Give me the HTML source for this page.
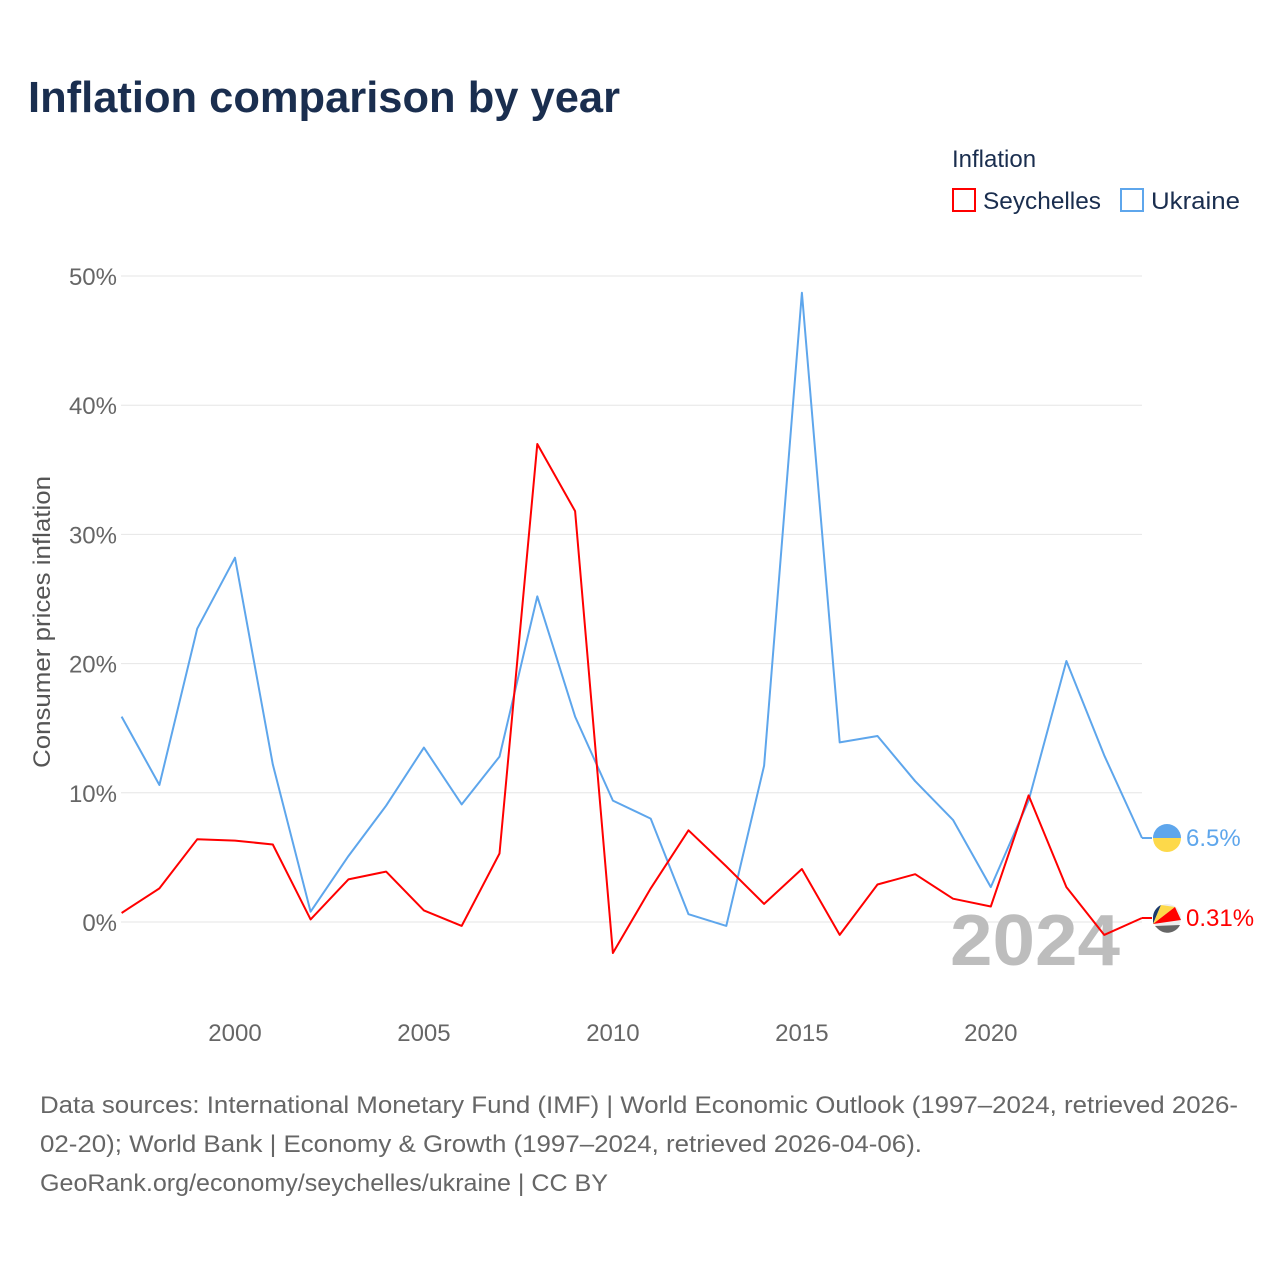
<!DOCTYPE html>
<html><head><meta charset="utf-8"><style>
body{margin:0;background:#fff;font-family:"Liberation Sans",sans-serif}
</style></head><body>
<svg id="chart" width="1280" height="1280" xmlns="http://www.w3.org/2000/svg" style="display:block">
<rect width="1280" height="1280" fill="#fff"/>
<text x="28" y="112" font-size="44" font-weight="bold" fill="#1a2e4f" textLength="592" lengthAdjust="spacingAndGlyphs">Inflation comparison by year</text>
<text x="952" y="167" font-size="24" fill="#1a2e4f">Inflation</text>
<g><rect x="953" y="189" width="22" height="22" fill="none" stroke="#f00" stroke-width="2"/><text x="983" y="209" font-size="24" fill="#1a2e4f" textLength="118" lengthAdjust="spacingAndGlyphs">Seychelles</text></g>
<g><rect x="1121" y="189" width="22" height="22" fill="none" stroke="#5ea6ec" stroke-width="2"/><text x="1151" y="209" font-size="24" fill="#1a2e4f" textLength="89" lengthAdjust="spacingAndGlyphs">Ukraine</text></g>
<g id="grid"></g>
<g id="xt"></g>
<text x="1120" y="965" text-anchor="end" font-size="72" font-weight="bold" fill="#bdbdbd" textLength="170" lengthAdjust="spacingAndGlyphs">2024</text>
<text transform="translate(50,622) rotate(-90)" text-anchor="middle" font-size="24" fill="#555" textLength="292" lengthAdjust="spacingAndGlyphs">Consumer prices inflation</text>
<g id="series"></g>
<g font-size="24" fill="#666">
<text x="40" y="1113" textLength="1198" lengthAdjust="spacingAndGlyphs">Data sources: International Monetary Fund (IMF) | World Economic Outlook (1997–2024, retrieved 2026-</text>
<text x="40" y="1152" textLength="882" lengthAdjust="spacingAndGlyphs">02-20); World Bank | Economy &amp; Growth (1997–2024, retrieved 2026-04-06).</text>
<text x="40" y="1191" textLength="568" lengthAdjust="spacingAndGlyphs">GeoRank.org/economy/seychelles/ukraine | CC BY</text>
</g>
</svg>
<script>
const years=[1997,1998,1999,2000,2001,2002,2003,2004,2005,2006,2007,2008,2009,2010,2011,2012,2013,2014,2015,2016,2017,2018,2019,2020,2021,2022,2023,2024];
const ukraine=[15.9,10.6,22.7,28.2,12.2,0.8,5.1,9.0,13.5,9.1,12.8,25.2,15.9,9.4,8.0,0.6,-0.3,12.1,48.7,13.9,14.4,10.9,7.9,2.7,9.4,20.2,12.9,6.5];
const seychelles=[0.7,2.6,6.4,6.3,6.0,0.2,3.3,3.9,0.9,-0.3,5.3,37.0,31.8,-2.4,2.6,7.1,4.3,1.4,4.1,-1.0,2.9,3.7,1.8,1.2,9.8,2.7,-1.0,0.31];
const yTicks=[0,10,20,30,40,50];
const xTicks=[2000,2005,2010,2015,2020];
const NS='http://www.w3.org/2000/svg';
const X=y=>121.6+(y-1997)*(1142-121.6)/27;
const Y=v=>922-v*(922-276)/50;
function el(t,a,p){const e=document.createElementNS(NS,t);for(const k in a)e.setAttribute(k,a[k]);p.appendChild(e);return e;}
const grid=document.getElementById('grid');
yTicks.forEach(t=>{
 const l=el('line',{x1:121,x2:1142,y1:Y(t),y2:Y(t),stroke:'#e6e6e6','stroke-width':1},grid);
 
 
 const tx=el('text',{x:117,y:Y(t)+9,'text-anchor':'end','font-size':24,fill:'#666'},grid);
 tx.textContent=t+'%';
 
 
});
const xt=document.getElementById('xt');
xTicks.forEach(t=>{
 const tx=el('text',{x:X(t),y:1041,'text-anchor':'middle','font-size':24,fill:'#666'},xt);
 tx.textContent=t;
 
 
});
const s=document.getElementById('series');
function line(vals,color,name){
 const d=vals.map((v,i)=>(i?'L':'M')+X(years[i]).toFixed(1)+','+Y(v).toFixed(1)).join('');
 const p=el('path',{d:d,fill:'none',stroke:color,'stroke-width':2,'stroke-linejoin':'round'},s);
 
 
}
line(ukraine,'#5ea6ec','ukraine');
line(seychelles,'#f00','seychelles');
const lu=ukraine[ukraine.length-1], ls=seychelles[seychelles.length-1];
const ex=X(years[years.length-1]);
el('line',{x1:ex,x2:ex+10,y1:Y(lu),y2:Y(lu),stroke:'#5ea6ec','stroke-width':2},s);
el('line',{x1:ex,x2:ex+10,y1:Y(ls),y2:Y(ls),stroke:'#f00','stroke-width':2},s);
const fu=el('g',{},s);


const cu=Y(lu);
el('path',{d:`M${ex+11},${cu} a14,14 0 0 1 28,0 z`,fill:'#5ea6ec'},fu);
el('path',{d:`M${ex+11},${cu} a14,14 0 0 0 28,0 z`,fill:'#fdd94a'},fu);
const tu=el('text',{x:ex+44,y:cu+8,'font-size':24,fill:'#5ea6ec'},s);
tu.textContent=lu+'%';


const cs=Y(ls);
const fs=el('g',{},s);


const cx=ex+25;
el('circle',{cx:cx,cy:cs,r:14,fill:'#eee'},fs);
el('path',{d:`M${cx-14},${cs+6} L${cx-6},${cs-13} A14,14 0 0 0 ${cx-14},${cs} z`,fill:'#1a3a6e'},fs);
el('path',{d:`M${cx-14},${cs+6} L${cx-6},${cs-13} L${cx+8},${cs-11} z`,fill:'#fdd94a'},fs);
el('path',{d:`M${cx-14},${cs+6} L${cx+8},${cs-11} L${cx+14},${cs+2} z`,fill:'#f00'},fs);
el('path',{d:`M${cx-12},${cs+8} L${cx+13},${cs+7} A14,14 0 0 1 ${cx-10},${cs+10} z`,fill:'#666'},fs);
const ts=el('text',{x:ex+44,y:cs+8,'font-size':24,fill:'#f00'},s);
ts.textContent=ls+'%';


</script>
</body></html>
